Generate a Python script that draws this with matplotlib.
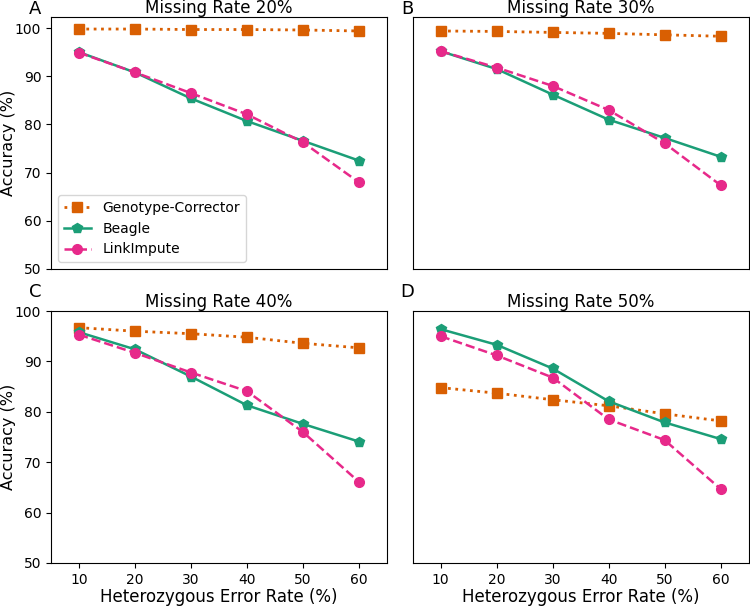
import matplotlib.pyplot as plt
import numpy as np

err_rate = [10, 20, 30, 40, 50, 60]
missing = ['20%', '30%', '40%', '50%']
panel_letters = ['A', 'B', 'C', 'D']

gc = [[99.8, 99.8, 99.7, 99.7, 99.6, 99.4],
      [99.4, 99.3, 99.1, 98.9, 98.6, 98.3],
      [96.7, 96.0, 95.5, 94.8, 93.6, 92.7],
      [84.8, 83.7, 82.4, 81.2, 79.6, 78.2]]
beagle = [[95.0, 90.8, 85.4, 80.7, 76.6, 72.5],
          [95.2, 91.5, 86.2, 81.0, 77.2, 73.3],
          [95.8, 92.4, 87.0, 81.3, 77.6, 74.1],
          [96.4, 93.3, 88.6, 82.1, 77.9, 74.6]]
linkimpute = [[94.9, 90.8, 86.5, 82.1, 76.3, 68.0],
              [95.2, 91.8, 88.0, 83.0, 76.1, 67.4],
              [95.3, 91.7, 87.8, 84.1, 76.0, 66.1],
              [95.0, 91.2, 86.8, 78.5, 74.4, 64.7]]

fig, axes = plt.subplots(2, 2, figsize=(7.5, 6.07), dpi=100, sharex=True)
plt.subplots_adjust(left=0.068, right=0.998, top=0.972, bottom=0.0725,
                    wspace=0.077, hspace=0.167)

for i, ax in enumerate(axes.flat):
    ax.plot(err_rate, gc[i], ':', color='#d95f02', marker='s', markersize=6.5,
            linewidth=2, label='Genotype-Corrector')
    ax.plot(err_rate, beagle[i], '-', color='#1b9e77', marker='p', markersize=7.5,
            linewidth=1.8, label='Beagle')
    ax.plot(err_rate, linkimpute[i], '--', color='#e7298a', marker='o', markersize=7,
            linewidth=1.8, label='LinkImpute')
    ax.set_title('Missing Rate ' + missing[i], fontsize=12, pad=1.5)
    ax.set_xlim(5, 65)
    ax.set_xticks(err_rate)
    ax.tick_params(labelsize=10)
    if i < 2:
        ax.set_ylim(50, 102.3)
    else:
        ax.set_ylim(50, 100)
        ax.set_xlabel('Heterozygous Error Rate (%)', fontsize=12, labelpad=1)
    if i % 2 == 0:
        ax.set_yticks([50, 60, 70, 80, 90, 100])
        ax.set_ylabel('Accuracy (%)', fontsize=11.5)
        ax.yaxis.set_label_coords(-0.103, 0.5)
    else:
        ax.set_yticks([])
    if i < 2:
        ax.tick_params(axis='x', bottom=False, labelbottom=False)

axes[0, 0].legend(loc='lower left', fontsize=10)

fig.text(0.047, 1.0, panel_letters[0], fontsize=13, va='top', ha='center')
fig.text(0.543, 1.0, panel_letters[1], fontsize=13, va='top', ha='center')
fig.text(0.047, 0.534, panel_letters[2], fontsize=13, va='top', ha='center')
fig.text(0.543, 0.534, panel_letters[3], fontsize=13, va='top', ha='center')

plt.savefig('out.png')
